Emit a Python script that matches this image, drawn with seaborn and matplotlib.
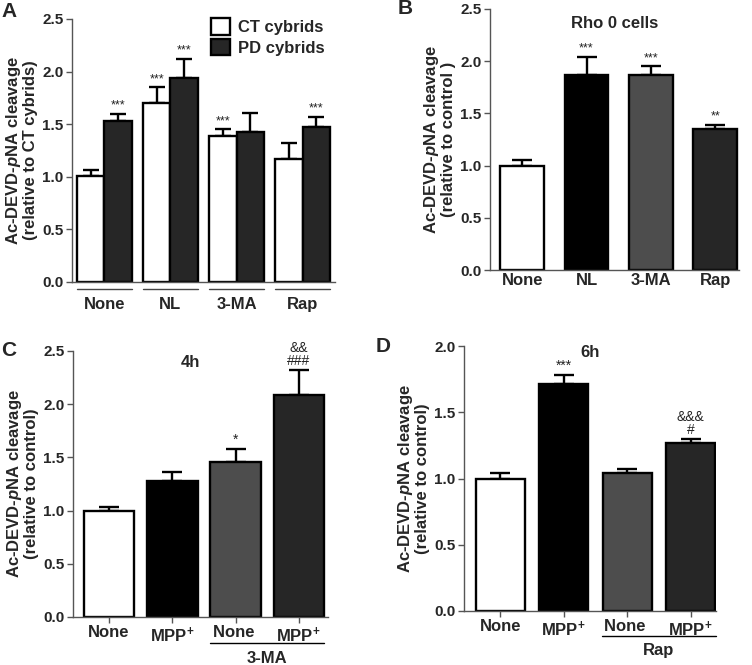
import matplotlib
matplotlib.use("Agg")
import matplotlib.pyplot as plt
import matplotlib.transforms as mtransforms
import numpy as np
import pandas as pd
import seaborn as sns

# ==========================================================
# Data
# ==========================================================

a_groups  = ["None", "NL", "3-MA", "Rap"]
a_cells   = ["CT cybrids", "PD cybrids"]
a_ct_mean = [1.01, 1.70, 1.39, 1.17]
a_ct_err  = [0.05, 0.15, 0.06, 0.15]
a_pd_mean = [1.53, 1.94, 1.43, 1.47]
a_pd_err  = [0.07, 0.18, 0.18, 0.10]
a_ct_sig  = ["", "***", "***", ""]
a_pd_sig  = ["***", "***", "", "***"]

b_groups = ["None", "NL", "3-MA", "Rap"]
b_mean   = [1.00, 1.87, 1.87, 1.355]
b_err    = [0.05, 0.17, 0.08, 0.035]
b_sig    = ["", "***", "***", "**"]

c_groups = ["None", "$\\mathbf{MPP^{+}}$", "None ", "$\\mathbf{MPP^{+}}$ "]
c_mean   = [1.00, 1.28, 1.46, 2.09]
c_err    = [0.035, 0.085, 0.12, 0.23]
c_sig    = ["", "", "*", "&&\n###"]

d_groups = ["None", "$\\mathbf{MPP^{+}}$", "None ", "$\\mathbf{MPP^{+}}$ "]
d_mean   = [1.00, 1.71, 1.045, 1.27]
d_err    = [0.04, 0.07, 0.025, 0.025]
d_sig    = ["", "***", "", "&&&\n#"]

fills_4 = ["white", "black", "#4d4d4d", "#262626"]
YLABEL_A = "Ac-DEVD-$\\it{p}$NA cleavage\n(relative to CT cybrids)"
YLABEL_B = "Ac-DEVD-$\\it{p}$NA cleavage\n(relative to control )"
YLABEL_C = "Ac-DEVD-$\\it{p}$NA cleavage\n(relative to control)"

# ==========================================================
# Style
# ==========================================================

sns.set_theme(style="ticks")
plt.rcParams["font.family"] = ["Liberation Sans", "DejaVu Sans"]
plt.rcParams["font.weight"] = "bold"
plt.rcParams["mathtext.fontset"] = "custom"
plt.rcParams["mathtext.rm"] = "Liberation Sans:bold"
plt.rcParams["mathtext.it"] = "Liberation Sans:italic:bold"
plt.rcParams["mathtext.bf"] = "Liberation Sans:bold"

EDGE = 1.7
SPINE_COL = "#555555"
TXT = 12

fig = plt.figure(figsize=(7.52, 6.65), dpi=100)

def frac(x0, y0, x1, y1):
    # pixel box (left, top, right, bottom) -> figure fraction
    return [x0 / 752, 1 - y1 / 665, (x1 - x0) / 752, (y1 - y0) / 665]

ax_a = fig.add_axes(frac(72, 19, 335, 282))
ax_b = fig.add_axes(frac(490, 9, 739, 270))
ax_c = fig.add_axes(frac(73, 351, 328, 617))
ax_d = fig.add_axes(frac(464, 346, 716, 611))


def style_axis(ax, ymax, ylabel, xticks=True):
    ax.set_ylim(0, ymax)
    ax.set_yticks(np.arange(0, ymax + 0.01, 0.5))
    ax.set_yticklabels([f"{v:.1f}" for v in np.arange(0, ymax + 0.01, 0.5)])
    for s in ["top", "right"]:
        ax.spines[s].set_visible(False)
    for s in ["left", "bottom"]:
        ax.spines[s].set_color(SPINE_COL)
        ax.spines[s].set_linewidth(1.0)
    ax.tick_params(axis="y", labelsize=11, width=1.0, length=4, color=SPINE_COL, pad=2)
    ax.tick_params(axis="x", labelsize=TXT, width=1.0, length=4 if xticks else 0,
                   color=SPINE_COL, pad=2)
    ax.set_xlabel("")
    ax.set_ylabel(ylabel, fontsize=TXT, fontweight="bold", labelpad=3, linespacing=1.05)


def add_errors(ax, bars, means, errs, sigs, cap=7, sig_size=9):
    for bar, m, e, s in zip(bars, means, errs, sigs):
        xc = bar.get_x() + bar.get_width() / 2
        ax.errorbar(xc, m, yerr=[[0], [e]], fmt="none", ecolor="black",
                    elinewidth=1.7, capsize=cap, capthick=1.7, zorder=1)
        if s:
            ax.text(xc, m + e + 0.02, s, ha="center", va="bottom",
                    fontsize=sig_size, fontweight="normal", color="#222222",
                    linespacing=0.9)


def label(ax, letter, dx=-0.19, dy=1.0):
    ax.text(dx, dy, letter, transform=ax.transAxes, fontsize=15,
            fontweight="bold", ha="left", va="center")

# ==========================================================
# Panel A
# ==========================================================

df_a = pd.DataFrame({
    "group": a_groups * 2,
    "cells": [a_cells[0]] * 4 + [a_cells[1]] * 4,
    "value": a_ct_mean + a_pd_mean,
})
sns.barplot(data=df_a, x="group", y="value", hue="cells", ax=ax_a,
            palette=["white", "#262626"], edgecolor="black", linewidth=EDGE,
            width=0.84, errorbar=None, zorder=2)
ax_a.set_xlim(-0.49, 3.49)
style_axis(ax_a, 2.5, YLABEL_A, xticks=False)
ct_bars = ax_a.containers[0]
pd_bars = ax_a.containers[1]
add_errors(ax_a, ct_bars, a_ct_mean, a_ct_err, a_ct_sig, cap=6)
add_errors(ax_a, pd_bars, a_pd_mean, a_pd_err, a_pd_sig, cap=6)
ax_a.tick_params(axis="x", pad=11)
trans_a = mtransforms.blended_transform_factory(ax_a.transData, ax_a.transAxes)
for i in range(len(a_groups)):
    ax_a.plot([i - 0.42, i + 0.42], [-0.025, -0.025], color="#444444", lw=1.0,
              transform=trans_a, clip_on=False)
leg = ax_a.legend(loc="upper right", bbox_to_anchor=(1.0, 1.04), frameon=False,
                  fontsize=TXT, handlelength=1.15, handleheight=1.15,
                  handletextpad=0.5, labelspacing=0.2, borderaxespad=0.2)
for t in leg.get_texts():
    t.set_fontweight("bold")
label(ax_a, "A", dx=-0.27, dy=1.03)

# ==========================================================
# Panel B
# ==========================================================

sns.barplot(x=b_groups, y=b_mean, hue=b_groups, palette=fills_4, legend=False,
            ax=ax_b, edgecolor="black", linewidth=EDGE, width=0.68,
            errorbar=None, zorder=2)
ax_b.set_xlim(-0.5, 3.37)
style_axis(ax_b, 2.5, YLABEL_B, xticks=False)
add_errors(ax_b, ax_b.patches, b_mean, b_err, b_sig)
ax_b.text(0.5, 0.946, "Rho 0 cells", transform=ax_b.transAxes, ha="center",
          va="center", fontsize=TXT, fontweight="bold")
label(ax_b, "B", dx=-0.37, dy=1.0)

# ==========================================================
# Panel C
# ==========================================================

sns.barplot(x=c_groups, y=c_mean, hue=c_groups, palette=fills_4, legend=False,
            ax=ax_c, edgecolor="black", linewidth=EDGE, width=0.8,
            errorbar=None, zorder=2)
ax_c.set_xlim(-0.57, 3.46)
style_axis(ax_c, 2.5, YLABEL_C)
add_errors(ax_c, ax_c.patches, c_mean, c_err, c_sig, sig_size=10)
ax_c.text(0.46, 0.955, "4h", transform=ax_c.transAxes, ha="center",
          va="center", fontsize=TXT, fontweight="bold")
trans_c = mtransforms.blended_transform_factory(ax_c.transData, ax_c.transAxes)
ax_c.plot([1.6, 3.4], [-0.098, -0.098], color="black", lw=1.0,
          transform=trans_c, clip_on=False)
ax_c.text(2.5, -0.155, "3-MA", transform=trans_c, ha="center", va="center",
          fontsize=TXT, fontweight="bold")
label(ax_c, "C", dx=-0.28, dy=1.0)

# ==========================================================
# Panel D
# ==========================================================

sns.barplot(x=d_groups, y=d_mean, hue=d_groups, palette=fills_4, legend=False,
            ax=ax_d, edgecolor="black", linewidth=EDGE, width=0.77,
            errorbar=None, zorder=2)
ax_d.set_xlim(-0.57, 3.4)
style_axis(ax_d, 2.0, YLABEL_C)
add_errors(ax_d, ax_d.patches, d_mean, d_err, d_sig, sig_size=10)
ax_d.text(0.5, 0.975, "6h", transform=ax_d.transAxes, ha="center",
          va="center", fontsize=TXT, fontweight="bold")
trans_d = mtransforms.blended_transform_factory(ax_d.transData, ax_d.transAxes)
ax_d.plot([1.6, 3.4], [-0.095, -0.095], color="black", lw=1.0,
          transform=trans_d, clip_on=False)
ax_d.text(2.5, -0.15, "Rap", transform=trans_d, ha="center", va="center",
          fontsize=TXT, fontweight="bold")
label(ax_d, "D", dx=-0.35, dy=1.0)

fig.savefig("out.png", dpi=100, facecolor="white")
